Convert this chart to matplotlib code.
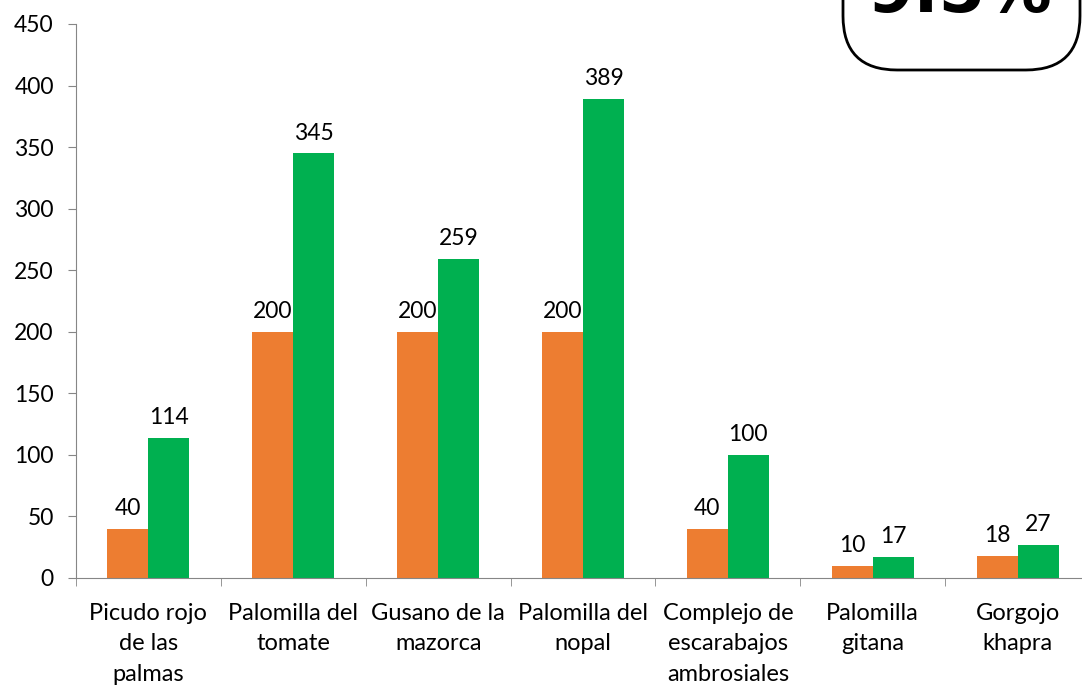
import matplotlib.pyplot as plt
import numpy as np
from matplotlib.patches import FancyBboxPatch

plt.rcParams['font.family'] = ['Lato', 'DejaVu Sans']

categorias = ["Picudo rojo\nde las\npalmas", "Palomilla del\ntomate", "Gusano de la\nmazorca",
              "Palomilla del\nnopal", "Complejo de\nescarabajos\nambrosiales", "Palomilla\ngitana",
              "Gorgojo\nkhapra"]
naranja = [40, 200, 200, 200, 40, 10, 18]
verde = [114, 345, 259, 389, 100, 17, 27]

fig = plt.figure(figsize=(10.82, 6.86), dpi=100)
ax = fig.add_axes([76/1082, 108/686, 1014/1082, 554/686])

x = np.arange(len(categorias))
w = 0.283
b1 = ax.bar(x - w/2, naranja, w, color="#ED7D31")
b2 = ax.bar(x + w/2, verde, w, color="#00B050")
for bars, vals in ((b1, naranja), (b2, verde)):
    for r, v in zip(bars, vals):
        ax.annotate(str(v), (r.get_x() + r.get_width()/2, v), xytext=(0, 7),
                    textcoords="offset points", ha="center", va="bottom", fontsize=16.5)

ax.set_xlim(-0.5, 6.5)
ax.set_ylim(0, 450)
ax.set_yticks(range(0, 451, 50))
ax.set_xticks(x)
ax.set_xticklabels(categorias, fontsize=17, linespacing=1.55, va="top")
ax.set_xticks(np.arange(-0.5, 7, 1), minor=True)
ax.tick_params(axis="x", which="major", length=0, pad=18)
ax.tick_params(axis="x", which="minor", length=6, color="#868686", direction="out")
ax.tick_params(axis="y", length=6, color="#868686", labelsize=16.5, pad=10)
for s in ("top", "right"):
    ax.spines[s].set_visible(False)
for s in ("left", "bottom"):
    ax.spines[s].set_color("#868686")

box = FancyBboxPatch((843/1082, 1 - 70/686), 237/1082, 0.2, transform=fig.transFigure,
                     boxstyle="round,pad=0,rounding_size=0.05", fc="white", ec="black", lw=2,
                     mutation_aspect=1082/686, clip_on=False)
fig.patches.append(box)
fig.text(960/1082, 1 - 12/686, "9.5%", ha="center", va="baseline", fontsize=48,
         fontweight="bold", family="DejaVu Sans")

fig.savefig("out.png", dpi=100)
